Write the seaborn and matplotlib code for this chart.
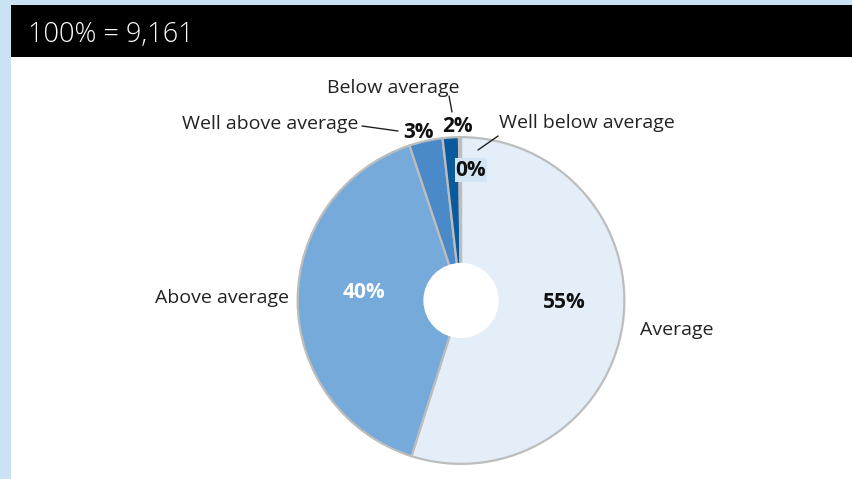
import matplotlib
matplotlib.use("Agg")
import matplotlib.pyplot as plt
from matplotlib.patches import Rectangle, Circle
from matplotlib.lines import Line2D
import seaborn as sns

# ---- data ----
categories = ["Average", "Above average", "Well above average", "Below average", "Well below average"]
shares = [54.9, 40.0, 3.3, 1.6, 0.2]
pct_labels = ["55%", "40%", "3%", "2%", "0%"]
total_label = "100% = 9,161"
colors = ["#E3EEF8", "#75AADB", "#4A8AC9", "#0A5A9E", "#9CC3E6"]

sns.set_theme(style="white")
plt.rcParams["font.family"] = ["Open Sans", "DejaVu Sans"]

W, H = 852, 479
fig = plt.figure(figsize=(W / 100, H / 100), dpi=100, facecolor="#C9E2F4")


def px(x, y):
    return x / W, 1 - y / H


# white panel and black header band
fig.patches.append(Rectangle(px(11, 479), (W - 11) / W, (479 - 57) / H,
                             transform=fig.transFigure, facecolor="white", edgecolor="none", zorder=-5))
fig.patches.append(Rectangle(px(11, 57), (W - 11) / W, 52 / H,
                             transform=fig.transFigure, facecolor="black", edgecolor="none", zorder=-5))
fig.text(*px(28, 35), total_label, color="white", fontsize=19.5, fontweight="light", va="center", ha="left")

# pie axes: center (461,300), radius 165 px
cx, cy, r = 461, 300.5, 165
ax = fig.add_axes([(cx - r) / W, (H - cy - r) / H, 2 * r / W, 2 * r / H])
ax.set_zorder(2)
ax.patch.set_visible(False)
ax.pie(shares, colors=colors, startangle=90, counterclock=False, radius=1,
       wedgeprops=dict(edgecolor="#BDBDBD", linewidth=1.6))
ax.add_patch(Circle((0, 0), 38 / 165, facecolor="white", edgecolor="none", zorder=5))
ax.set_xlim(-1.01, 1.01)
ax.set_ylim(-1.01, 1.01)
ax.set_aspect("equal")
ax.axis("off")

fs = 14
fsb = 15
tc = "#222222"
# category labels
fig.text(*px(393, 88), categories[3], fontsize=fs, ha="center", va="center", color=tc, zorder=10)
fig.text(*px(358, 124), categories[2], fontsize=fs, ha="right", va="center", color=tc, zorder=10)
fig.text(*px(499, 123), categories[4], fontsize=fs, ha="left", va="center", color=tc, zorder=10)
fig.text(*px(289, 298), categories[1], fontsize=fs, ha="right", va="center", color=tc, zorder=10)
fig.text(*px(640, 330), categories[0], fontsize=fs, ha="left", va="center", color=tc, zorder=10)

# percentage labels
fig.text(*px(564, 303), pct_labels[0], fontsize=fsb, fontweight="bold", ha="center", va="center", color="#111111", zorder=10)
fig.text(*px(364, 292), pct_labels[1], fontsize=fsb, fontweight="bold", ha="center", va="center", color="white", zorder=10)
fig.text(*px(418, 132), pct_labels[2], fontsize=fsb, fontweight="bold", ha="center", va="center", color="#111111", zorder=10)
fig.text(*px(457, 126), pct_labels[3], fontsize=fsb, fontweight="bold", ha="center", va="center", color="#111111", zorder=10)
fig.text(*px(471, 170), pct_labels[4], fontsize=fsb, fontweight="bold", ha="center", va="center", color="#111111",
         bbox=dict(boxstyle="square,pad=0.05", facecolor="#D3E5F5", edgecolor="none"), zorder=10)

# leader lines
for (x0, y0), (x1, y1) in [((449, 96), (452, 112)), ((362, 126), (398, 131)), ((498, 136), (478, 150))]:
    (a0, b0), (a1, b1) = px(x0, y0), px(x1, y1)
    fig.add_artist(Line2D([a0, a1], [b0, b1], transform=fig.transFigure, color=tc, linewidth=1, zorder=10))

fig.savefig("out.png", dpi=100, facecolor=fig.get_facecolor())
